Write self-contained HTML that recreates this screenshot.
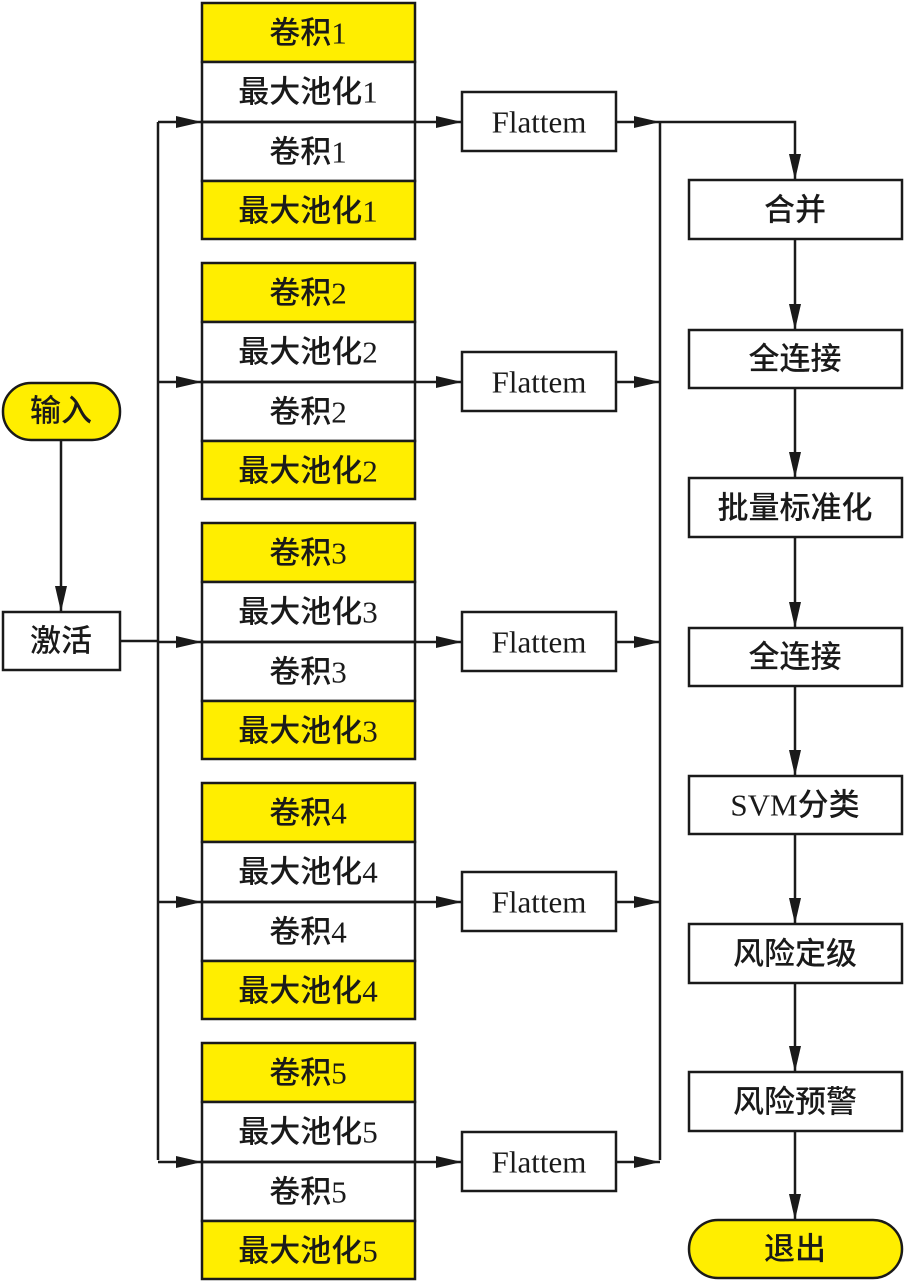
<!DOCTYPE html>
<html><head><meta charset="utf-8"><style>
html,body{margin:0;padding:0;background:#fff;}
svg{display:block;}
text{font-family:"Liberation Serif","Noto Sans CJK SC",serif;font-size:31px;font-weight:500;fill:#1a1a1a;text-anchor:middle;dominant-baseline:central;}
</style></head><body>
<svg width="904" height="1284" viewBox="0 0 904 1284" xmlns="http://www.w3.org/2000/svg">
<g stroke="#1a1a1a" stroke-width="2.5" fill="none">
<rect x="3" y="383" width="117" height="57" rx="28" fill="#ffee00"/>
<rect x="3" y="612" width="117" height="58" fill="#fff"/>
<line x1="61" y1="440" x2="61" y2="612"/>
<line x1="120" y1="641" x2="158" y2="641"/>
<line x1="158" y1="122" x2="158" y2="1160"/>
<line x1="660" y1="122" x2="660" y2="1160"/>
<polyline points="660,122 795,122 795,180"/>
<rect x="689" y="180" width="213" height="59" fill="#fff"/>
<rect x="689" y="330" width="213" height="58" fill="#fff"/>
<rect x="689" y="478" width="213" height="59" fill="#fff"/>
<rect x="689" y="628" width="213" height="58" fill="#fff"/>
<rect x="689" y="776" width="213" height="58" fill="#fff"/>
<rect x="689" y="924" width="213" height="59" fill="#fff"/>
<rect x="689" y="1072" width="213" height="59" fill="#fff"/>
<rect x="689" y="1220" width="213" height="58" rx="29" fill="#ffee00"/>
<line x1="795" y1="239" x2="795" y2="330"/>
<line x1="795" y1="388" x2="795" y2="478"/>
<line x1="795" y1="537" x2="795" y2="628"/>
<line x1="795" y1="686" x2="795" y2="776"/>
<line x1="795" y1="834" x2="795" y2="924"/>
<line x1="795" y1="983" x2="795" y2="1072"/>
<line x1="795" y1="1131" x2="795" y2="1220"/>
</g>
<g fill="#1a1a1a">
<polygon points="55,586 61,612 67,586"/>
<polygon points="789,154 795,180 801,154"/>
<polygon points="789,304 795,330 801,304"/>
<polygon points="789,452 795,478 801,452"/>
<polygon points="789,602 795,628 801,602"/>
<polygon points="789,750 795,776 801,750"/>
<polygon points="789,898 795,924 801,898"/>
<polygon points="789,1046 795,1072 801,1046"/>
<polygon points="789,1194 795,1220 801,1194"/>
</g>
<text x="61" y="411">输入</text>
<text x="61" y="641">激活</text>
<text x="795" y="210">合并</text>
<text x="795" y="359">全连接</text>
<text x="795" y="508">批量标准化</text>
<text x="795" y="657">全连接</text>
<text x="795" y="805">SVM分类</text>
<text x="795" y="954">风险定级</text>
<text x="795" y="1102">风险预警</text>
<text x="795" y="1249">退出</text>

<g>
<g stroke="#1a1a1a" stroke-width="2.5">
<rect x="202" y="3" width="213" height="59" fill="#ffee00"/>
<rect x="202" y="62" width="213" height="60" fill="#fff"/>
<rect x="202" y="122" width="213" height="59" fill="#fff"/>
<rect x="202" y="181" width="213" height="58" fill="#ffee00"/>
<rect x="462" y="92" width="154" height="59" fill="#fff"/>
<line x1="158" y1="122" x2="462" y2="122"/>
<line x1="616" y1="122" x2="660" y2="122"/>
</g>
<g fill="#1a1a1a">
<polygon points="176,116 202,122 176,128"/>
<polygon points="436,116 462,122 436,128"/>
<polygon points="634,116 660,122 634,128"/>
</g>
<text x="308" y="33">卷积1</text>
<text x="308" y="92">最大池化1</text>
<text x="308" y="152">卷积1</text>
<text x="308" y="211">最大池化1</text>
<text x="539" y="122">Flattem</text>
</g>
<g transform="translate(0,260)">
<g stroke="#1a1a1a" stroke-width="2.5">
<rect x="202" y="3" width="213" height="59" fill="#ffee00"/>
<rect x="202" y="62" width="213" height="60" fill="#fff"/>
<rect x="202" y="122" width="213" height="59" fill="#fff"/>
<rect x="202" y="181" width="213" height="58" fill="#ffee00"/>
<rect x="462" y="92" width="154" height="59" fill="#fff"/>
<line x1="158" y1="122" x2="462" y2="122"/>
<line x1="616" y1="122" x2="660" y2="122"/>
</g>
<g fill="#1a1a1a">
<polygon points="176,116 202,122 176,128"/>
<polygon points="436,116 462,122 436,128"/>
<polygon points="634,116 660,122 634,128"/>
</g>
<text x="308" y="33">卷积2</text>
<text x="308" y="92">最大池化2</text>
<text x="308" y="152">卷积2</text>
<text x="308" y="211">最大池化2</text>
<text x="539" y="122">Flattem</text>
</g>
<g transform="translate(0,520)">
<g stroke="#1a1a1a" stroke-width="2.5">
<rect x="202" y="3" width="213" height="59" fill="#ffee00"/>
<rect x="202" y="62" width="213" height="60" fill="#fff"/>
<rect x="202" y="122" width="213" height="59" fill="#fff"/>
<rect x="202" y="181" width="213" height="58" fill="#ffee00"/>
<rect x="462" y="92" width="154" height="59" fill="#fff"/>
<line x1="158" y1="122" x2="462" y2="122"/>
<line x1="616" y1="122" x2="660" y2="122"/>
</g>
<g fill="#1a1a1a">
<polygon points="176,116 202,122 176,128"/>
<polygon points="436,116 462,122 436,128"/>
<polygon points="634,116 660,122 634,128"/>
</g>
<text x="308" y="33">卷积3</text>
<text x="308" y="92">最大池化3</text>
<text x="308" y="152">卷积3</text>
<text x="308" y="211">最大池化3</text>
<text x="539" y="122">Flattem</text>
</g>
<g transform="translate(0,780)">
<g stroke="#1a1a1a" stroke-width="2.5">
<rect x="202" y="3" width="213" height="59" fill="#ffee00"/>
<rect x="202" y="62" width="213" height="60" fill="#fff"/>
<rect x="202" y="122" width="213" height="59" fill="#fff"/>
<rect x="202" y="181" width="213" height="58" fill="#ffee00"/>
<rect x="462" y="92" width="154" height="59" fill="#fff"/>
<line x1="158" y1="122" x2="462" y2="122"/>
<line x1="616" y1="122" x2="660" y2="122"/>
</g>
<g fill="#1a1a1a">
<polygon points="176,116 202,122 176,128"/>
<polygon points="436,116 462,122 436,128"/>
<polygon points="634,116 660,122 634,128"/>
</g>
<text x="308" y="33">卷积4</text>
<text x="308" y="92">最大池化4</text>
<text x="308" y="152">卷积4</text>
<text x="308" y="211">最大池化4</text>
<text x="539" y="122">Flattem</text>
</g>
<g transform="translate(0,1040)">
<g stroke="#1a1a1a" stroke-width="2.5">
<rect x="202" y="3" width="213" height="59" fill="#ffee00"/>
<rect x="202" y="62" width="213" height="60" fill="#fff"/>
<rect x="202" y="122" width="213" height="59" fill="#fff"/>
<rect x="202" y="181" width="213" height="58" fill="#ffee00"/>
<rect x="462" y="92" width="154" height="59" fill="#fff"/>
<line x1="158" y1="122" x2="462" y2="122"/>
<line x1="616" y1="122" x2="660" y2="122"/>
</g>
<g fill="#1a1a1a">
<polygon points="176,116 202,122 176,128"/>
<polygon points="436,116 462,122 436,128"/>
<polygon points="634,116 660,122 634,128"/>
</g>
<text x="308" y="33">卷积5</text>
<text x="308" y="92">最大池化5</text>
<text x="308" y="152">卷积5</text>
<text x="308" y="211">最大池化5</text>
<text x="539" y="122">Flattem</text>
</g>
</svg>
</body></html>
